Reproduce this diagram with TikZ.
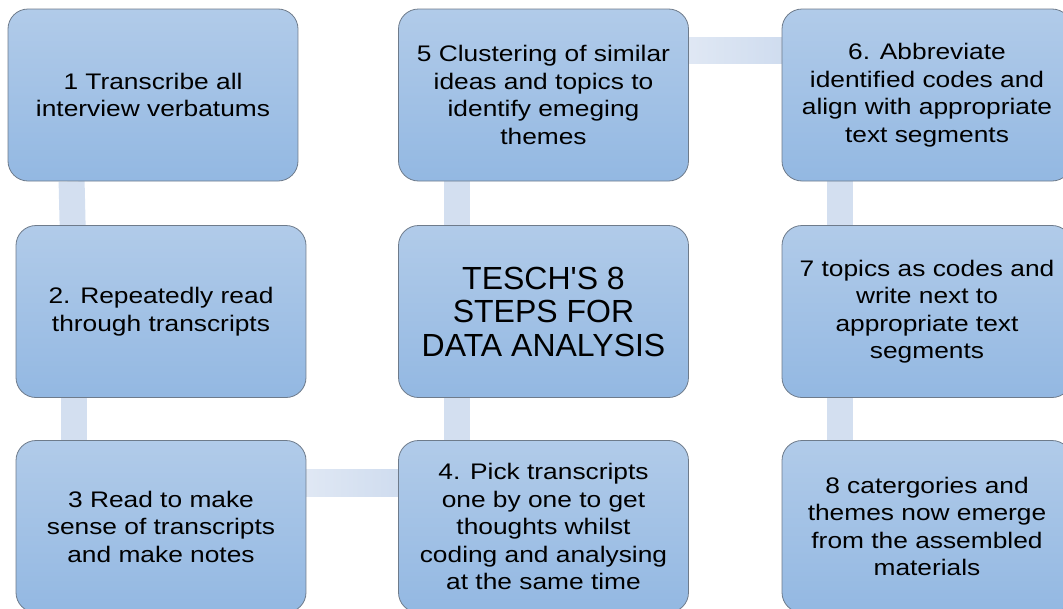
\documentclass[tikz,border=0pt]{standalone}
\usepackage{fontspec}
\setmainfont{Liberation Sans}
\newfontfamily\stepfont{Liberation Sans}[FakeStretch=1.17]
\usetikzlibrary{calc,backgrounds}
\definecolor{boxtop}{HTML}{B1CBE9}
\definecolor{boxbot}{HTML}{93B8E2}
\definecolor{boxline}{HTML}{6E7B8B}
\definecolor{linkcol}{HTML}{D3DFF0}
\definecolor{linkleft}{HTML}{E0E8F4}
\definecolor{linkright}{HTML}{CFDCEF}

\begin{document}
\begin{tikzpicture}[x=1pt,y=-1pt,
    stepbox/.style={draw=boxline,line width=0.8pt,rounded corners=20pt,
      top color=boxtop,bottom color=boxbot,minimum width=290pt,minimum height=172pt,
      inner sep=0pt,align=center,font=\stepfont\fontsize{22.5}{27.5}\selectfont},
    titlebox/.style={stepbox,font=\fontsize{32}{33.5}\selectfont},
    vlink/.style={draw=linkcol,line width=26pt},
    hlink/.style={left color=linkleft,right color=linkright}]

  \useasboundingbox (0,0) rectangle (1063,608);
  \clip (0,0) rectangle (1063,608);

  \node[stepbox] (s1) at (153,95) {1 Transcribe all\\interview verbatums};
  \node[stepbox] (s2) at (161,311.5) {2. Repeatedly read\\through transcripts};
  \node[stepbox] (s3) at (161,526.5) {3 Read to make\\sense of transcripts\\and make notes};
  \node[stepbox] (s4) at (543.5,526.5) {4. Pick transcripts\\one by one to get\\thoughts whilst\\coding and analysing\\at the same time};
  \node[titlebox] (title) at (543.5,311.5) {TESCH{\textquotesingle}S 8\\STEPS FOR\\DATA ANALYSIS};
  \node[stepbox] (s5) at (543.5,95) {5 Clustering of similar\\ideas and topics to\\identify emeging\\themes};
  \node[stepbox] (s6) at (927,95) {6. Abbreviate\\identified codes and\\align with appropriate\\text segments};
  \node[stepbox] (s7) at (927,311.5) {7 topics as codes and\\write next to\\appropriate text\\segments};
  \node[stepbox] (s8) at (927,526.5) {8 catergories and\\themes now emerge\\from the assembled\\materials};

  \begin{scope}[on background layer]
    \draw[vlink] ($(s1.south west)+(64,0)$) -- ($(s2.north west)+(57,0)$);
    \draw[vlink] ($(s2.south west)+(58.5,0)$) -- ($(s3.north west)+(58.5,0)$);
    \shade[hlink] ($(s3.north east)+(-2,29)$) rectangle ($(s4.north west)+(2,56)$);
    \draw[vlink] ($(s4.north west)+(59,0)$) -- ($(title.south west)+(59,0)$);
    \draw[vlink] ($(title.north west)+(59,0)$) -- ($(s5.south west)+(59,0)$);
    \shade[hlink] ($(s5.north east)+(-2,29)$) rectangle ($(s6.north west)+(2,55)$);
    \draw[vlink] ($(s6.south west)+(58.5,0)$) -- ($(s7.north west)+(58.5,0)$);
    \draw[vlink] ($(s7.south west)+(58.5,0)$) -- ($(s8.north west)+(58.5,0)$);
  \end{scope}
\end{tikzpicture}
\end{document}
